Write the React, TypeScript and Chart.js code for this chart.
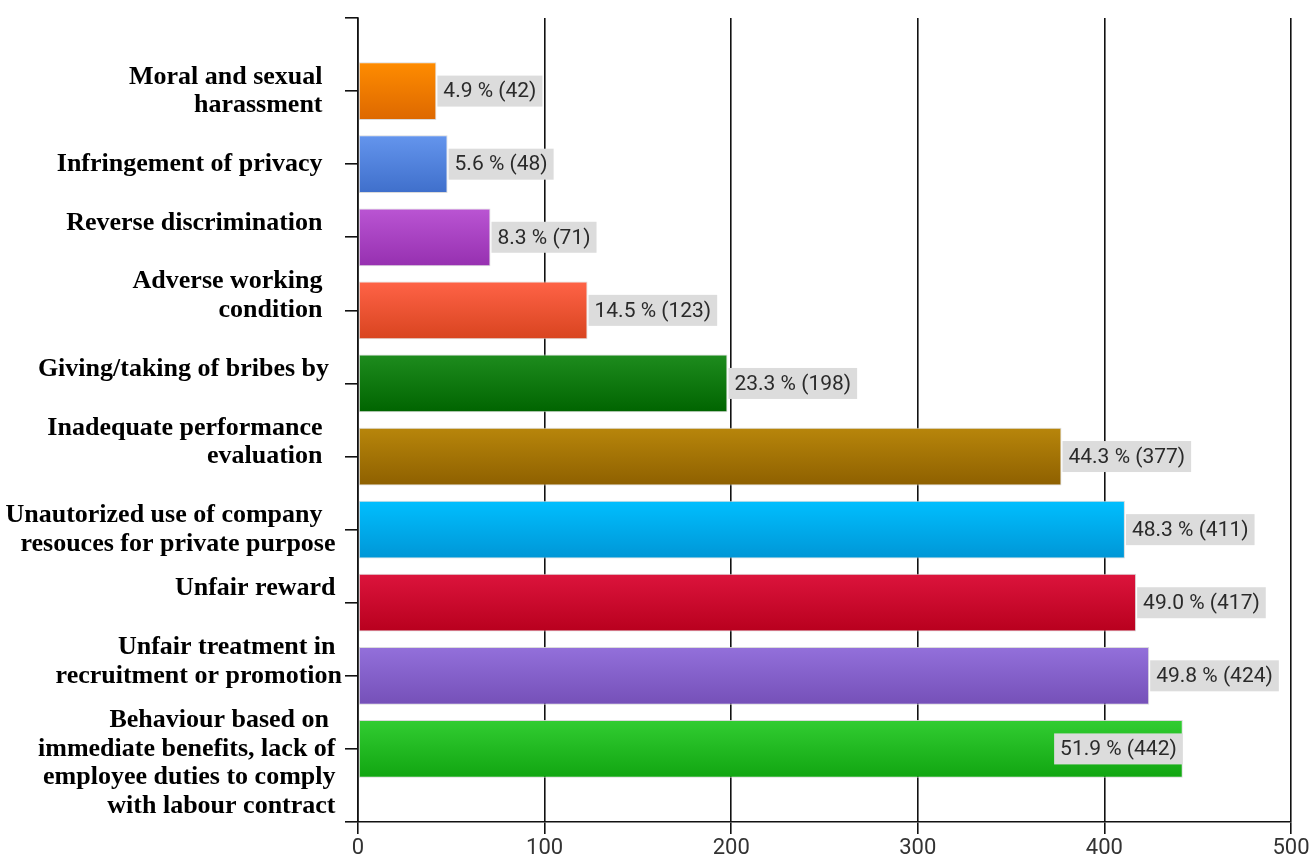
import React, { useEffect, useRef } from "react";
import { Chart, registerables } from "chart.js";

Chart.register(...registerables);

const categories: string[][] = [
  ["Moral and sexual   ", "harassment   "],
  ["Infringement of privacy   "],
  ["Reverse discrimination   ", ""],
  ["Adverse working   ", "condition   ", ""],
  ["Giving/taking of bribes by  ", ""],
  ["Inadequate performance   ", "evaluation   ", ""],
  ["Unautorized use of company   ", "resouces for private purpose "],
  ["Unfair reward ", ""],
  ["Unfair treatment in ", "recruitment or promotion", ""],
  ["", "Behaviour based on  ", "immediate benefits, lack of ", "employee duties to comply ", "with labour contract "],
];

const counts: number[] = [42, 48, 71, 123, 198, 377, 411, 417, 424, 442];
const percents: string[] = ["4.9", "5.6", "8.3", "14.5", "23.3", "44.3", "48.3", "49.0", "49.8", "51.9"];

const barTopColors: string[] = ["#FF8C00", "#6495ED", "#BA55D3", "#FF6347", "#1E8C1E", "#B8860B", "#00BFFF", "#DC143C", "#9370DB", "#32CD32"];
const barBottomColors: string[] = ["#DD6800", "#3F6FCB", "#9630B0", "#D8441F", "#006400", "#8E6000", "#0096D6", "#B8001E", "#7550B8", "#11A511"];

const xMin = 0;
const xMax = 500;
const xStep = 100;

const valueLabelPlugin = {
  id: "valueLabels",
  afterDatasetsDraw(chart: any) {
    const ctx = chart.ctx;
    const meta = chart.getDatasetMeta(0);
    ctx.save();
    ctx.font = "21px Roboto";
    ctx.textBaseline = "middle";
    ctx.textAlign = "left";
    meta.data.forEach((bar: any, idx: number) => {
      const i = idx - 1;
      if (i < 0 || i >= counts.length) return;
      const text = `${percents[i]} % (${counts[i]})`;
      const padX = 6;
      const w = ctx.measureText(text).width + padX * 2;
      const h = 31;
      let bx = bar.x + 1;
      if (bx + w > chart.chartArea.right) bx = bar.x - w;
      ctx.fillStyle = "#DCDCDC";
      ctx.fillRect(bx, bar.y - h / 2, w, h);
      ctx.fillStyle = "#2a2a2a";
      ctx.fillText(text, bx + padX, bar.y + 1);
    });
    ctx.restore();
  },
};

export default function App() {
  const canvasRef = useRef<HTMLCanvasElement | null>(null);

  useEffect(() => {
    document.body.style.margin = "0";
    let chart: Chart | null = null;
    let cancelled = false;
    const make = () => {
      if (cancelled || !canvasRef.current) return;
      const labels: any[] = ["", ...categories, ""];
      const data: (number | null)[] = [null, ...counts, null];
      chart = new Chart(canvasRef.current, {
        type: "bar",
        data: {
          labels,
          datasets: [
            {
              data,
              backgroundColor: (c: any) => {
                const i = c.dataIndex - 1;
                if (i < 0 || i >= counts.length) return "transparent";
                const chartObj = c.chart;
                const ys = chartObj.scales && chartObj.scales.y;
                if (!ys || ys.top === undefined) return barTopColors[i];
                const yc = ys.getPixelForValue(c.dataIndex);
                const half = 29;
                const g = chartObj.ctx.createLinearGradient(0, yc - half, 0, yc + half);
                g.addColorStop(0, barTopColors[i]);
                g.addColorStop(1, barBottomColors[i]);
                return g;
              },
              borderColor: "rgba(215,215,215,0.9)",
              borderWidth: 1,
              borderSkipped: false,
              barPercentage: 0.79,
              categoryPercentage: 1,
            } as any,
          ],
        },
        options: {
          indexAxis: "y",
          responsive: false,
          animation: false,
          devicePixelRatio: 1,
          layout: { padding: { top: 18, right: 20, left: 0, bottom: 0 } },
          plugins: {
            legend: { display: false },
            tooltip: { enabled: false },
          },
          scales: {
            x: {
              type: "linear",
              min: xMin,
              max: xMax,
              ticks: {
                stepSize: xStep,
                color: "#333",
                font: { family: "Roboto", size: 22 },
                padding: 1,
              },
              grid: {
                color: "#111",
                lineWidth: 1.6,
                tickLength: 12,
                tickColor: "#111",
              },
              border: { color: "#111", width: 1.6 },
              afterFit: (s: any) => {
                s.height = 37;
              },
            },
            y: {
              type: "category",
              offset: false,
              ticks: {
                autoSkip: false,
                color: "#000",
                font: { family: "Liberation Serif", weight: "bold", size: 26, lineHeight: 1.1 },
                padding: 3,
              },
              grid: {
                offset: false,
                drawOnChartArea: false,
                tickLength: 13,
                color: "#111",
                lineWidth: 1.6,
              },
              border: { color: "#111", width: 1.6 },
              afterFit: (s: any) => {
                s.width = 358;
              },
            },
          },
        } as any,
        plugins: [valueLabelPlugin],
      });
    };
    const fontsApi = (document as any).fonts;
    if (fontsApi && fontsApi.load) {
      Promise.all([
        fontsApi.load("21px Roboto"),
        fontsApi.load("bold 26px 'Liberation Serif'"),
      ])
        .catch(() => {})
        .then(make);
    } else {
      make();
    }
    return () => {
      cancelled = true;
      if (chart) chart.destroy();
    };
  }, []);

  return (
    <div style={{ width: 1311, height: 859 }}>
      <canvas ref={canvasRef} width={1311} height={859} style={{ display: "block" }} />
    </div>
  );
}
